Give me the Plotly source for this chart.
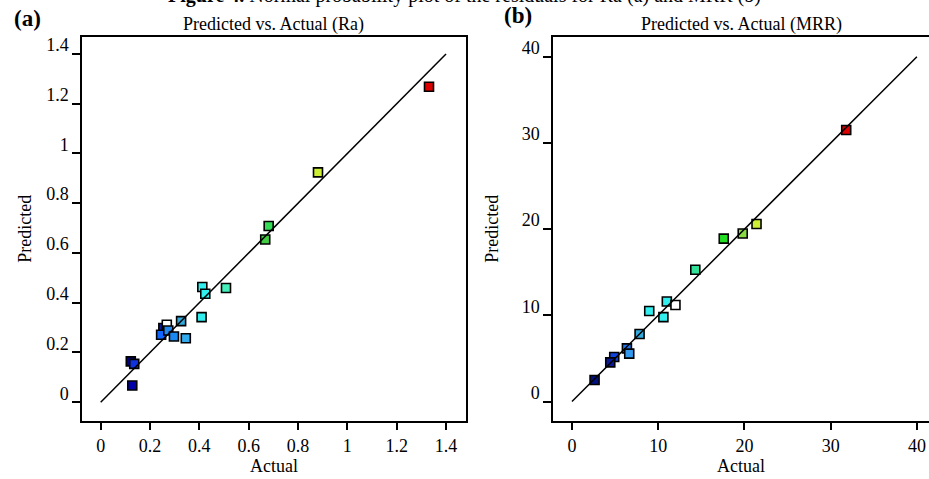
import plotly.graph_objects as go

# ---------------- data ----------------
ra_actual = [1.331, 0.881, 0.681, 0.667, 0.508, 0.412, 0.424, 0.409, 0.326,
             0.254, 0.268, 0.245, 0.274, 0.297, 0.345, 0.122, 0.136, 0.128]
ra_pred = [1.268, 0.924, 0.708, 0.654, 0.459, 0.463, 0.436, 0.342, 0.326,
           0.298, 0.311, 0.271, 0.288, 0.264, 0.257, 0.164, 0.154, 0.067]
ra_colors = ["#dd0000", "#ccee33", "#33dd55", "#44cc44", "#44eebb", "#33eeee",
             "#33eeee", "#33eeee", "#33aadd", "#0a1a99", "#ffffff", "#1166ff",
             "#2288ee", "#1a88ee", "#33aaee", "#000088", "#1133dd", "#0000aa"]

mrr_actual = [31.8, 21.4, 19.8, 17.6, 14.3, 11.0, 12.0, 8.96, 10.6, 7.84,
              6.37, 6.64, 4.9, 4.44, 2.62]
mrr_pred = [31.5, 20.6, 19.5, 18.9, 15.3, 11.6, 11.2, 10.5, 9.8, 7.84,
            6.17, 5.56, 5.17, 4.55, 2.5]
mrr_colors = ["#dd0000", "#ccee33", "#88dd44", "#22dd22", "#33e09a", "#33eeee",
              "#ffffff", "#33eeee", "#33eeee", "#33aadd", "#2277ee", "#3399ee",
              "#1144dd", "#0a1a99", "#001080"]

ra_line = [0, 1.4]
mrr_line = [0, 40]

ra_ticks = [0, 0.2, 0.4, 0.6, 0.8, 1, 1.2, 1.4]
ra_ticktext = ["0", "0.2", "0.4", "0.6", "0.8", "1", "1.2", "1.4"]
mrr_ticks = [0, 10, 20, 30, 40]
mrr_ticktext = ["0", "10", "20", "30", "40"]

FONT = "Liberation Serif"

fig = go.Figure()

fig.add_trace(go.Scatter(
    x=ra_actual, y=ra_pred, mode="markers", xaxis="x", yaxis="y",
    marker=dict(symbol="square", size=9, color=ra_colors,
                line=dict(color="black", width=1.6)),
    showlegend=False))
fig.add_trace(go.Scatter(
    x=ra_line, y=ra_line, mode="lines", xaxis="x", yaxis="y",
    line=dict(color="black", width=1.5), showlegend=False))

fig.add_trace(go.Scatter(
    x=mrr_actual, y=mrr_pred, mode="markers", xaxis="x2", yaxis="y2",
    marker=dict(symbol="square", size=9, color=mrr_colors,
                line=dict(color="black", width=1.6)),
    showlegend=False))
fig.add_trace(go.Scatter(
    x=mrr_line, y=mrr_line, mode="lines", xaxis="x2", yaxis="y2",
    line=dict(color="black", width=1.5), showlegend=False))

W, H = 929, 479
ydom = [(H - 420.5) / H, (H - 37) / H]

common = dict(showgrid=False, zeroline=False, showline=True, linecolor="black",
              linewidth=1.5, ticks="outside", ticklen=8, tickwidth=1.5,
              tickcolor="black", tickfont=dict(family=FONT, size=18, color="black"),
              automargin=False)

fig.update_layout(
    width=W, height=H,
    margin=dict(l=0, r=0, t=0, b=0),
    paper_bgcolor="white", plot_bgcolor="white",
    font=dict(family=FONT, color="black"),
    xaxis=dict(domain=[82 / W, 466 / W], range=[-0.0758, 1.481], anchor="y",
               tickvals=ra_ticks, ticktext=ra_ticktext, mirror=True,
               title=dict(text="Actual", font=dict(family=FONT, size=18), standoff=4),
               **common),
    yaxis=dict(domain=ydom, range=[-0.0736, 1.468], anchor="x",
               tickvals=ra_ticks, ticktext=ra_ticktext, mirror=True,
               ticklabelshift=-9,
               title=dict(text="Predicted", font=dict(family=FONT, size=18), standoff=10),
               **common),
    xaxis2=dict(domain=[553 / W, 1.0], range=[-2.2, 41.4], anchor="y2",
                tickvals=mrr_ticks, ticktext=mrr_ticktext, mirror=True,
                title=dict(text="Actual", font=dict(family=FONT, size=18), standoff=4),
                **common),
    yaxis2=dict(domain=ydom, range=[-2.2, 42.3], anchor="x2",
                tickvals=mrr_ticks, ticktext=mrr_ticktext, mirror=False,
                ticklabelshift=-9,
                title=dict(text="Predicted", font=dict(family=FONT, size=18), standoff=18),
                **common),
)

annots = [
    dict(text="<b>Figure 4.</b> Normal probability plot of the residuals for Ra (a) and MRR (b)",
         x=0.5, y=(H - 9) / H, xanchor="center", yanchor="bottom", size=20),
    dict(text="<b>(a)</b>", x=27 / W, y=(H - 18) / H, xanchor="center", yanchor="middle", size=23),
    dict(text="<b>(b)</b>", x=518 / W, y=(H - 16) / H, xanchor="center", yanchor="middle", size=23),
    dict(text="Predicted vs. Actual (Ra)", x=273 / W, y=(H - 24) / H,
         xanchor="center", yanchor="middle", size=18),
    dict(text="Predicted vs. Actual (MRR)", x=741 / W, y=(H - 24) / H,
         xanchor="center", yanchor="middle", size=18),
]
for a in annots:
    fig.add_annotation(text=a["text"], xref="paper", yref="paper", x=a["x"], y=a["y"],
                       xanchor=a["xanchor"], yanchor=a["yanchor"], showarrow=False,
                       font=dict(family=FONT, size=a["size"], color="black"))

fig.write_html("out.html")
